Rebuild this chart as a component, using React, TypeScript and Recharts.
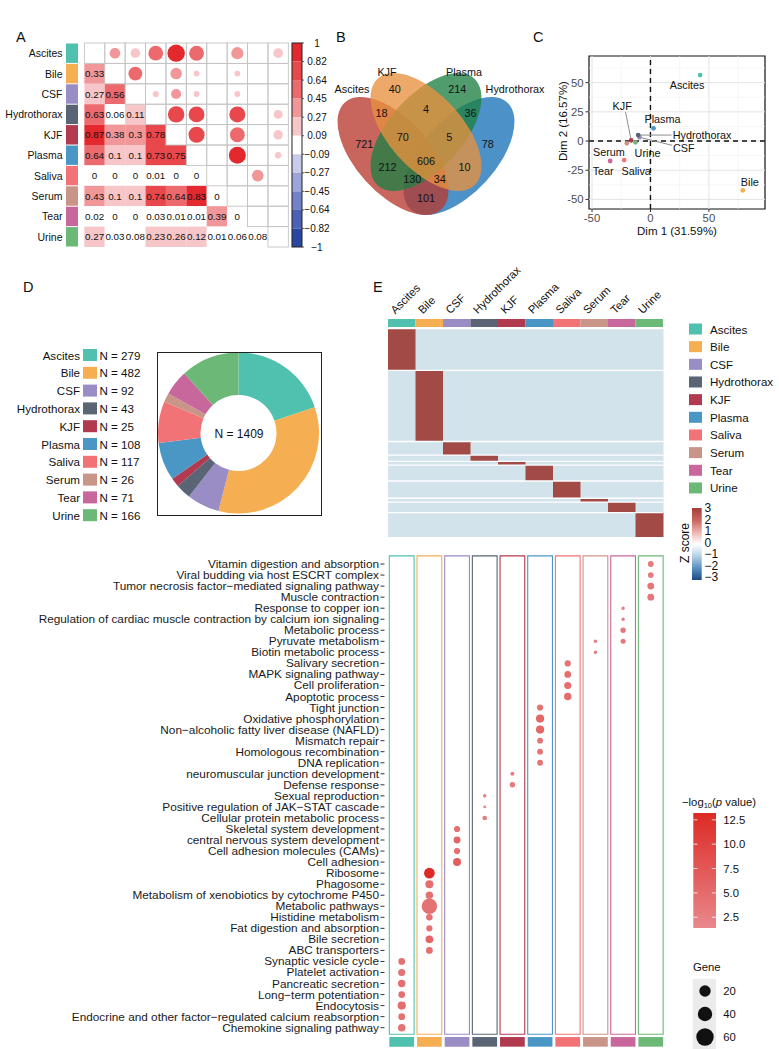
import React from 'react';
import {
  ScatterChart, Scatter, XAxis, YAxis, ZAxis, ReferenceArea, ReferenceLine,
  PieChart, Pie, Cell, BarChart, Bar, Label,
} from 'recharts';

const FONT = '"Liberation Sans", Arial, Helvetica, sans-serif';

// ---------------- shared data ----------------
const TISSUES = ['Ascites', 'Bile', 'CSF', 'Hydrothorax', 'KJF', 'Plasma', 'Saliva', 'Serum', 'Tear', 'Urine'];
const TISSUE_COLORS = ['#4FC1AE', '#F6AE53', '#9A8CC5', '#596475', '#B13A4F', '#4A97C6', '#F27376', '#C99588', '#C8679B', '#6CB877'];
const PROTEIN_COUNTS = [279, 482, 92, 43, 25, 108, 117, 26, 71, 166];

// ---------------- panel A data ----------------
const CORR_LOWER = [
  [],
  [0.33],
  [0.27, 0.56],
  [0.63, 0.06, 0.11],
  [0.87, 0.38, 0.3, 0.78],
  [0.64, 0.1, 0.1, 0.73, 0.75],
  [0, 0, 0, 0.01, 0, 0],
  [0.43, 0.1, 0.1, 0.74, 0.64, 0.83, 0],
  [0.02, 0, 0, 0.03, 0.01, 0.01, 0.39, 0],
  [0.27, 0.03, 0.08, 0.23, 0.26, 0.12, 0.01, 0.06, 0.08],
];
const CORR_BREAKS = [1, 0.82, 0.64, 0.45, 0.27, 0.09, -0.09, -0.27, -0.45, -0.64, -0.82, -1];
const CORR_BREAK_LABELS = ['1', '0.82', '0.64', '0.45', '0.27', '0.09', '\u22120.09', '\u22120.27', '\u22120.45', '\u22120.64', '\u22120.82', '\u22121'];
const CORR_BAND_COLORS = ['#E3282E', '#E8474C', '#EC6A6E', '#F19799', '#F7C6C8', '#FFFFFF', '#C8CCEA', '#9CA5D8', '#7381C6', '#4B62B4', '#2A47A2'];

// ---------------- panel B data ----------------
const VENN_SETS = ['Ascites', 'KJF', 'Plasma', 'Hydrothorax'];
const VENN_COUNTS = [
  { sets: ['Ascites'], n: 721 },
  { sets: ['KJF'], n: 40 },
  { sets: ['Plasma'], n: 214 },
  { sets: ['Hydrothorax'], n: 78 },
  { sets: ['Ascites', 'KJF'], n: 18 },
  { sets: ['KJF', 'Plasma'], n: 4 },
  { sets: ['Plasma', 'Hydrothorax'], n: 36 },
  { sets: ['Ascites', 'Hydrothorax'], n: 101 },
  { sets: ['Ascites', 'Plasma'], n: 212 },
  { sets: ['KJF', 'Hydrothorax'], n: 10 },
  { sets: ['Ascites', 'KJF', 'Plasma'], n: 70 },
  { sets: ['KJF', 'Plasma', 'Hydrothorax'], n: 5 },
  { sets: ['Ascites', 'Plasma', 'Hydrothorax'], n: 130 },
  { sets: ['Ascites', 'KJF', 'Hydrothorax'], n: 34 },
  { sets: ['Ascites', 'KJF', 'Plasma', 'Hydrothorax'], n: 606 },
];

// ---------------- panel C data ----------------
const PCA_POINTS = [
  { name: 'Ascites', x: 42.5, y: 56.5 },
  { name: 'Bile', x: 79, y: -42.2 },
  { name: 'CSF', x: -9.4, y: 3.2 },
  { name: 'Hydrothorax', x: -10.5, y: 5.1 },
  { name: 'KJF', x: -16.5, y: 0.6 },
  { name: 'Plasma', x: 2.6, y: 10.9 },
  { name: 'Saliva', x: -22.5, y: -16.3 },
  { name: 'Serum', x: -20.2, y: -2 },
  { name: 'Tear', x: -34.5, y: -17.1 },
  { name: 'Urine', x: -12.8, y: -1.1 },
];
const PCA_X_TICKS = [-50, 0, 50];
const PCA_Y_TICKS = [-50, -25, 0, 25, 50];
const PCA_X_MINOR = [-25, 25, 75];
const PCA_Y_MINOR = [-37.5, -12.5, 12.5, 37.5, 62.5];

// ---------------- panel E data ----------------
const TERMS = [
  'Vitamin digestion and absorption',
  'Viral budding via host ESCRT complex',
  'Tumor necrosis factor\u2212mediated signaling pathway',
  'Muscle contraction',
  'Response to copper ion',
  'Regulation of cardiac muscle contraction by calcium ion signaling',
  'Metabolic process',
  'Pyruvate metabolism',
  'Biotin metabolic process',
  'Salivary secretion',
  'MAPK signaling pathway',
  'Cell proliferation',
  'Apoptotic process',
  'Tight junction',
  'Oxidative phosphorylation',
  'Non\u2212alcoholic fatty liver disease (NAFLD)',
  'Mismatch repair',
  'Homologous recombination',
  'DNA replication',
  'neuromuscular junction development',
  'Defense response',
  'Sexual reproduction',
  'Positive regulation of JAK\u2212STAT cascade',
  'Cellular protein metabolic process',
  'Skeletal system development',
  'central nervous system development',
  'Cell adhesion molecules (CAMs)',
  'Cell adhesion',
  'Ribosome',
  'Phagosome',
  'Metabolism of xenobiotics by cytochrome P450',
  'Metabolic pathways',
  'Histidine metabolism',
  'Fat digestion and absorption',
  'Bile secretion',
  'ABC transporters',
  'Synaptic vesicle cycle',
  'Platelet activation',
  'Pancreatic secretion',
  'Long\u2212term potentiation',
  'Endocytosis',
  'Endocrine and other factor\u2212regulated calcium reabsorption',
  'Chemokine signaling pathway',
];
const ENRICH_TISSUE = ['Urine', 'Urine', 'Urine', 'Urine', 'Tear', 'Tear', 'Tear', 'Tear', 'Serum', 'Saliva', 'Saliva', 'Saliva', 'Saliva',
  'Plasma', 'Plasma', 'Plasma', 'Plasma', 'Plasma', 'Plasma', 'KJF', 'KJF', 'Hydrothorax', 'Hydrothorax', 'Hydrothorax',
  'CSF', 'CSF', 'CSF', 'CSF', 'Bile', 'Bile', 'Bile', 'Bile', 'Bile', 'Bile', 'Bile', 'Bile',
  'Ascites', 'Ascites', 'Ascites', 'Ascites', 'Ascites', 'Ascites', 'Ascites'];
const ENRICH_GENES = [8, 8, 11, 11, 3, 3, 7, 6, 3, 9, 11, 12, 13, 9, 16, 16, 8, 8, 8, 4, 7, 3, 2, 5, 9, 11, 9, 15, 27, 15, 13, 57, 10, 9, 14, 11, 11, 12, 13, 11, 16, 11, 13];
const ENRICH_LOGP = [3.2, 3.2, 3.8, 3.8, 2.6, 2.6, 3.5, 3.5, 2.4, 4.0, 4.6, 4.6, 4.8, 4.0, 5.5, 5.5, 4.0, 4.0, 4.0, 2.6, 3.2, 2.2, 2.2, 2.8,
  4.5, 5.8, 4.8, 6.5, 13.0, 4.8, 4.2, 4.2, 4.2, 4.4, 6.0, 4.6, 4.2, 4.2, 4.6, 4.2, 4.8, 4.2, 4.2];
// extra dot: Pyruvate metabolism also enriched in Serum
const EXTRA_DOTS = [{ term: 'Pyruvate metabolism', tissue: 'Serum', gene: 3, logp: 2.4 }];
const PVAL_TICKS = [2.5, 5.0, 7.5, 10.0, 12.5];
const PVAL_RANGE = [1.4, 13.2];
const GENE_LEGEND = [20, 40, 60];
const ZSCORE_TICKS = [3, 2, 1, 0, -1, -2, -3];

// ---------------- helpers ----------------
function corrBand(v: number) {
  for (let k = 0; k < 11; k++) {
    if (v <= CORR_BREAKS[k] && v > CORR_BREAKS[k + 1]) return k;
  }
  return 10;
}
function corrColor(v: number) { return CORR_BAND_COLORS[corrBand(v)]; }

const P_LOW = [232, 136, 140];
const P_HIGH = [221, 42, 36];
function pColor(v: number) {
  const t = Math.max(0, Math.min(1, (v - PVAL_RANGE[0]) / (PVAL_RANGE[1] - PVAL_RANGE[0])));
  const c = P_LOW.map((l, i) => Math.round(l + (P_HIGH[i] - l) * t));
  return `rgb(${c[0]},${c[1]},${c[2]})`;
}

// ---------------- Panel A ----------------
const A_CELL = 20.4;
const A_STRIP_X = -1.106;
const A_BAR_X = 9.924;

function PanelA() {
  const cells: any[] = [];
  for (let i = 0; i < TISSUES.length; i++) {
    for (let j = 0; j < TISSUES.length; j++) {
      if (j < i) cells.push({ x: j, y: i, v: CORR_LOWER[i][j], kind: 'lower' });
      else if (j > i) cells.push({ x: j, y: i, v: CORR_LOWER[j][i], kind: 'upper' });
      else cells.push({ x: j, y: i, v: 1, kind: 'diag' });
    }
  }
  const lower = cells.filter((c) => c.kind === 'lower');
  const upperDiag = cells.filter((c) => c.kind !== 'lower');
  const upper = cells.filter((c) => c.kind === 'upper');
  const strip = TISSUES.map((t, i) => ({ x: A_STRIP_X, y: i, i }));
  const nb = CORR_BAND_COLORS.length;
  const bands = CORR_BAND_COLORS.map((c, k) => ({ x: A_BAR_X, y: -0.5 + ((k + 0.5) * 10) / nb, k }));
  const blabels = CORR_BREAK_LABELS.map((l, k) => ({ x: A_BAR_X, y: -0.5 + (k * 10) / nb, l }));
  const h = A_CELL / 2;
  return (
    <ScatterChart width={330} height={250} margin={{ top: 23, right: 23.3, bottom: 23, left: 0 }}>
      <XAxis type="number" dataKey="x" domain={[-1.4, 10.4]} hide />
      <YAxis type="number" dataKey="y" domain={[-0.5, 9.5]} reversed ticks={[0, 1, 2, 3, 4, 5, 6, 7, 8, 9]} interval={0}
        width={66} axisLine={false} tickLine={false} tickSize={0} tickMargin={3.5}
        tick={(p: any) => (
          <text x={p.x} y={p.y} textAnchor="end" dominantBaseline="central" fontSize={10.5} fill="#111">{TISSUES[p.payload.value]}</text>
        )} />
      <Scatter data={strip} isAnimationActive={false}
        shape={(p: any) => <rect x={p.cx - 6} y={p.cy - h + 0.5} width={12} height={A_CELL - 1} fill={TISSUE_COLORS[p.payload.i]} />} />
      <Scatter data={lower} isAnimationActive={false}
        shape={(p: any) => <rect x={p.cx - h} y={p.cy - h} width={A_CELL} height={A_CELL} fill={corrColor(p.payload.v)} />} />
      <Scatter data={upperDiag} isAnimationActive={false}
        shape={(p: any) => <rect x={p.cx - h} y={p.cy - h} width={A_CELL} height={A_CELL} fill="none" stroke="#C4C4C4" strokeWidth={0.9} />} />
      <Scatter data={upper} isAnimationActive={false}
        shape={(p: any) => <circle cx={p.cx} cy={p.cy} r={9.3 * Math.sqrt(Math.abs(p.payload.v))} fill={corrColor(p.payload.v)} />} />
      <Scatter data={lower} isAnimationActive={false}
        shape={(p: any) => (
          <text x={p.cx} y={p.cy} textAnchor="middle" dominantBaseline="central" fontSize={9.8} fill="#111">{String(p.payload.v)}</text>
        )} />
      <Scatter data={bands} isAnimationActive={false}
        shape={(p: any) => {
          const bh = (A_CELL * 10) / nb;
          return <rect x={p.cx - 5} y={p.cy - bh / 2} width={10} height={bh} fill={CORR_BAND_COLORS[p.payload.k]} />;
        }} />
      <Scatter data={bands.slice(0, 1)} isAnimationActive={false}
        shape={(p: any) => <rect x={p.cx - 5} y={p.cy - (A_CELL * 10) / nb / 2} width={10} height={A_CELL * 10} fill="none" stroke="#222" strokeWidth={1} />} />
      <Scatter data={blabels} isAnimationActive={false}
        shape={(p: any) => (
          <g>
            <line x1={p.cx + 5} x2={p.cx + 7} y1={p.cy} y2={p.cy} stroke="#333" strokeWidth={0.8} />
            <text x={p.cx + 20} y={p.cy} textAnchor="middle" dominantBaseline="central" fontSize={10} fill="#111">{p.payload.l}</text>
          </g>
        )} />
    </ScatterChart>
  );
}

// ---------------- Panel B ----------------
const VENN_LAYOUT: Record<string, any> = {
  Ascites: { cx: 73, cy: 116, angle: 48, lx: 32, ly: 49, color: '#B83A30' },
  KJF: { cx: 106, cy: 92, angle: 48, lx: 67, ly: 32, color: '#E8913F' },
  Plasma: { cx: 106, cy: 92, angle: -48, lx: 144, ly: 32, color: '#1F8044' },
  Hydrothorax: { cx: 139, cy: 116, angle: -48, lx: 195, ly: 49, color: '#1A72B8' },
};
const VENN_A = 72;
const VENN_B = 37;
const VENN_DRAW_ORDER = ['Hydrothorax', 'Ascites', 'Plasma', 'KJF'];
const VENN_W = 230;
const VENN_H = 190;

function inEllipse(px: number, py: number, L: any) {
  const t = (L.angle * Math.PI) / 180;
  const dx = px - L.cx;
  const dy = py - L.cy;
  const u = dx * Math.cos(t) + dy * Math.sin(t);
  const v = -dx * Math.sin(t) + dy * Math.cos(t);
  return (u / VENN_A) ** 2 + (v / VENN_B) ** 2 <= 1;
}

function vennRegionLabels() {
  const acc: Record<number, { sx: number; sy: number; c: number }> = {};
  for (let py = 0; py <= VENN_H; py += 1) {
    for (let px = 0; px <= VENN_W; px += 1) {
      let mask = 0;
      VENN_SETS.forEach((s, i) => { if (inEllipse(px, py, VENN_LAYOUT[s])) mask |= 1 << i; });
      if (!mask) continue;
      if (!acc[mask]) acc[mask] = { sx: 0, sy: 0, c: 0 };
      acc[mask].sx += px; acc[mask].sy += py; acc[mask].c += 1;
    }
  }
  return VENN_COUNTS.map((r) => {
    const mask = r.sets.reduce((m, s) => m | (1 << VENN_SETS.indexOf(s)), 0);
    const a = acc[mask] || { sx: 0, sy: 0, c: 1 };
    return { x: a.sx / a.c, y: a.sy / a.c, n: r.n };
  });
}

function PanelB() {
  const ellipses = VENN_DRAW_ORDER.map((s) => ({ x: VENN_LAYOUT[s].cx, y: VENN_LAYOUT[s].cy, s }));
  const setLabels = VENN_SETS.map((s) => ({ x: VENN_LAYOUT[s].lx, y: VENN_LAYOUT[s].ly, s }));
  const regions = vennRegionLabels();
  return (
    <ScatterChart width={VENN_W} height={VENN_H} margin={{ top: 0, right: 0, bottom: 0, left: 0 }}>
      <XAxis type="number" dataKey="x" domain={[0, VENN_W]} hide />
      <YAxis type="number" dataKey="y" domain={[0, VENN_H]} reversed hide />
      <Scatter data={ellipses} isAnimationActive={false}
        shape={(p: any) => {
          const L = VENN_LAYOUT[p.payload.s];
          return <ellipse cx={p.cx} cy={p.cy} rx={VENN_A} ry={VENN_B} transform={`rotate(${L.angle} ${p.cx} ${p.cy})`} fill={L.color} fillOpacity={0.78} stroke="none" />;
        }} />
      <Scatter data={setLabels} isAnimationActive={false}
        shape={(p: any) => <text x={p.cx} y={p.cy} textAnchor="middle" dominantBaseline="central" fontSize={10.8} fill="#111">{p.payload.s}</text>} />
      <Scatter data={regions} isAnimationActive={false}
        shape={(p: any) => <text x={p.cx} y={p.cy} textAnchor="middle" dominantBaseline="central" fontSize={10.8} fill="#111">{p.payload.n}</text>} />
    </ScatterChart>
  );
}

// ---------------- Panel C ----------------
const PCA_LABEL_LAYOUT: Record<string, any> = {
  Ascites: { dx: -13, dy: 10, anchor: 'middle' },
  Bile: { dx: 7, dy: -8, anchor: 'middle' },
  Plasma: { dx: 9, dy: -9, anchor: 'middle' },
  Hydrothorax: { dx: 34.5, dy: 0, anchor: 'start', line: [33.3, 0] },
  CSF: { dx: 33.5, dy: 11, anchor: 'start', line: [32.5, 8] },
  KJF: { dx: -9, dy: -34, anchor: 'middle', line: [-5.7, -28.3] },
  Serum: { dx: -18, dy: 9, anchor: 'middle' },
  Urine: { dx: 12, dy: 11, anchor: 'middle' },
  Tear: { dx: -7, dy: 10, anchor: 'middle' },
  Saliva: { dx: 12, dy: 11, anchor: 'middle' },
};
const PCA_XDOM = [-52.6, 98];
const PCA_YDOM = [-58.2, 72.8];

function PanelC() {
  return (
    <ScatterChart width={269} height={230} margin={{ top: 36, right: 14, bottom: 0, left: 29 }}>
      <XAxis type="number" dataKey="x" domain={PCA_XDOM} ticks={PCA_X_TICKS} allowDataOverflow height={41}
        axisLine={false} tickSize={3} tickMargin={1.5} tickLine={{ stroke: '#333' }}
        tick={{ fontSize: 11.3, fill: '#4D4D4D' }}
        label={(p: any) => {
          const vb = p.viewBox;
          return <text x={vb.x + vb.width / 2} y={vb.y + 22} textAnchor="middle" dominantBaseline="central" fontSize={11.5} fill="#111">Dim 1 (31.59%)</text>;
        }} />
      <YAxis type="number" dataKey="y" domain={PCA_YDOM} ticks={PCA_Y_TICKS} allowDataOverflow width={50}
        axisLine={false} tickSize={3.5} tickMargin={2} tickLine={{ stroke: '#333' }}
        tick={{ fontSize: 11.3, fill: '#4D4D4D' }}
        label={(p: any) => {
          const vb = p.viewBox;
          const x = vb.x + 24;
          const y = 101;
          return <text x={x} y={y} transform={`rotate(-90 ${x} ${y})`} textAnchor="middle" dominantBaseline="central" fontSize={11.5} fill="#111">Dim 2 (16.57%)</text>;
        }} />
      {PCA_X_MINOR.map((v) => <ReferenceLine key={'xm' + v} x={v} stroke="#F0F0F0" strokeWidth={0.6} />)}
      {PCA_Y_MINOR.map((v) => <ReferenceLine key={'ym' + v} y={v} stroke="#F0F0F0" strokeWidth={0.6} />)}
      {PCA_X_TICKS.map((v) => <ReferenceLine key={'x' + v} x={v} stroke="#E3E3E3" strokeWidth={1} />)}
      {PCA_Y_TICKS.map((v) => <ReferenceLine key={'y' + v} y={v} stroke="#E3E3E3" strokeWidth={1} />)}
      <ReferenceLine x={0} stroke="#111" strokeWidth={1.4} strokeDasharray="5 4" />
      <ReferenceLine y={0} stroke="#111" strokeWidth={1.4} strokeDasharray="5 4" />
      <ReferenceArea x1={PCA_XDOM[0]} x2={PCA_XDOM[1]} y1={PCA_YDOM[0]} y2={PCA_YDOM[1]} fill="none" stroke="#111" strokeWidth={1.2} />
      <Scatter data={PCA_POINTS} isAnimationActive={false}
        shape={(p: any) => {
          const L = PCA_LABEL_LAYOUT[p.payload.name];
          const ci = TISSUES.indexOf(p.payload.name);
          return (
            <g>
              {L.line && <line x1={p.cx} y1={p.cy} x2={p.cx + L.line[0]} y2={p.cy + L.line[1]} stroke="#8C8C8C" strokeWidth={1} />}
              <circle cx={p.cx} cy={p.cy} r={2.4} fill={TISSUE_COLORS[ci]} />
              <text x={p.cx + L.dx} y={p.cy + L.dy} textAnchor={L.anchor} dominantBaseline="central" fontSize={10.8} fill="#111">{p.payload.name}</text>
            </g>
          );
        }} />
    </ScatterChart>
  );
}

// ---------------- Panel D ----------------
function PanelD() {
  const data = TISSUES.map((t, i) => ({ name: t, n: PROTEIN_COUNTS[i] }));
  const total = PROTEIN_COUNTS.reduce((a, b) => a + b, 0);
  return (
    <PieChart width={162} height={161} margin={{ top: 0, right: 0, bottom: 0, left: 0 }}>
      <Pie data={data} dataKey="n" cx={80.5} cy={80} innerRadius={38} outerRadius={80.5} startAngle={90} endAngle={-270}
        stroke="none" isAnimationActive={false}>
        {data.map((d, i) => <Cell key={d.name} fill={TISSUE_COLORS[i]} />)}
        <Label position="center" value={`N = ${total}`} fontSize={12} fill="#111" />
      </Pie>
    </PieChart>
  );
}

// ---------------- Panel E heatmap ----------------
const HEAT_LIGHT = '#D3E3EC';
const HEAT_DARK = '#A24A46';
const HEAT_YMIN = -70;
const HEAT_AXIS_H = 59;

function HeatTick(p: any) {
  return (
    <text transform={`translate(${p.x - 6.5},${HEAT_AXIS_H - 4.5}) rotate(-45)`} fontSize={11.3} fill="#111">{p.payload.value}</text>
  );
}

function PanelEHeat() {
  const data = TISSUES.map((t) => {
    const row: any = { tissue: t };
    PROTEIN_COUNTS.forEach((n, g) => { row['g' + g] = n; });
    return row;
  });
  const total = PROTEIN_COUNTS.reduce((a, b) => a + b, 0);
  const bounds: number[] = [];
  PROTEIN_COUNTS.reduce((acc, n) => { bounds.push(acc + n); return acc + n; }, 0);
  return (
    <BarChart width={290} height={280} data={data} margin={{ top: 0, right: 7, bottom: 3, left: 8 }} barCategoryGap={0} barGap={0}>
      <XAxis dataKey="tissue" orientation="top" height={HEAT_AXIS_H} axisLine={false} tickLine={false} interval={0} tick={<HeatTick />} />
      <YAxis type="number" domain={[HEAT_YMIN, total]} reversed hide allowDataOverflow />
      {PROTEIN_COUNTS.map((n, g) => (
        <Bar key={g} dataKey={'g' + g} stackId="s" isAnimationActive={false}>
          {data.map((d, c) => <Cell key={c} fill={g === c ? HEAT_DARK : HEAT_LIGHT} />)}
        </Bar>
      ))}
      {bounds.slice(0, -1).map((b) => <ReferenceLine key={b} y={b} stroke="#FFFFFF" strokeWidth={1.3} />)}
      {TISSUES.map((t, i) => (
        <ReferenceArea key={t} x1={t} x2={t} y1={HEAT_YMIN} y2={-15.6} fill={TISSUE_COLORS[i]} fillOpacity={1} stroke="none" />
      ))}
    </BarChart>
  );
}

// ---------------- Panel E dot plot ----------------
const DOT_XDOM = [-0.622, 9.46];
const DOT_YDOM = [-0.8, 43.75];

function PanelEDots() {
  const dots = TERMS.map((term, i) => ({
    x: TISSUES.indexOf(ENRICH_TISSUE[i]), y: i, gene: ENRICH_GENES[i], logp: ENRICH_LOGP[i],
  })).concat(EXTRA_DOTS.map((d) => ({ x: TISSUES.indexOf(d.tissue), y: TERMS.indexOf(d.term), gene: d.gene, logp: d.logp })));
  const lastRow = TERMS.length - 1;
  return (
    <ScatterChart width={680} height={499} margin={{ top: 5.2, right: 16.5, bottom: 2, left: 0 }}>
      <XAxis type="number" dataKey="x" domain={DOT_XDOM} hide allowDataOverflow />
      <YAxis type="number" dataKey="y" domain={DOT_YDOM} reversed allowDataOverflow ticks={TERMS.map((t, i) => i)} interval={0}
        width={384.5} axisLine={false} tickSize={4} tickMargin={1.5} tickLine={{ stroke: '#333' }}
        tick={(p: any) => (
          <text x={p.x} y={p.y} textAnchor="end" dominantBaseline="central" fontSize={11.8} fill="#1A1A1A">{TERMS[p.payload.value]}</text>
        )} />
      <ZAxis type="number" dataKey="gene" domain={[0, 60]} range={[0, 200]} />
      {TISSUES.map((t, i) => (
        <ReferenceArea key={'box' + t} x1={i - 0.447} x2={i + 0.447} y1={-0.74} y2={lastRow + 0.6}
          fill="none" stroke={TISSUE_COLORS[i]} strokeWidth={1.1} ifOverflow="visible" />
      ))}
      {TISSUES.map((t, i) => (
        <ReferenceArea key={'strip' + t} x1={i - 0.447} x2={i + 0.447} y1={lastRow + 0.85} y2={lastRow + 1.72}
          fill={TISSUE_COLORS[i]} fillOpacity={1} stroke="none" ifOverflow="visible" />
      ))}
      <Scatter data={dots} isAnimationActive={false} shape="circle">
        {dots.map((d, i) => <Cell key={i} fill={pColor(d.logp)} />)}
      </Scatter>
    </ScatterChart>
  );
}

// ---------------- overlay legends ----------------
function Overlay() {
  const pTop = 813;
  const pBot = 928;
  const pY = (v: number) => pBot - ((v - PVAL_RANGE[0]) / (PVAL_RANGE[1] - PVAL_RANGE[0])) * (pBot - pTop);
  const zTop = 508;
  const zBot = 580;
  const zY = (v: number) => zTop + ((3 - v) / 6) * (zBot - zTop) - (3 - v) * 0.5;
  return (
    <svg width={779} height={1049} style={{ position: 'absolute', left: 0, top: 0, pointerEvents: 'none' }}>
      <defs>
        <linearGradient id="zgrad" x1="0" y1="0" x2="0" y2="1">
          <stop offset="0" stopColor="#A33E3B" />
          <stop offset="0.17" stopColor="#C9665F" />
          <stop offset="0.34" stopColor="#EDB5AE" />
          <stop offset="0.5" stopColor="#FFFFFF" />
          <stop offset="0.66" stopColor="#BAD4E6" />
          <stop offset="0.83" stopColor="#5C92C1" />
          <stop offset="1" stopColor="#1B4A87" />
        </linearGradient>
        <linearGradient id="pgrad" x1="0" y1="0" x2="0" y2="1">
          <stop offset="0" stopColor={pColor(PVAL_RANGE[1])} />
          <stop offset="1" stopColor={pColor(PVAL_RANGE[0])} />
        </linearGradient>
      </defs>
      {/* panel letters */}
      <text x={16} y={42} fontSize={14.5} fill="#111">A</text>
      <text x={336} y={42} fontSize={14.5} fill="#111">B</text>
      <text x={533} y={42} fontSize={14.5} fill="#111">C</text>
      <text x={23} y={292} fontSize={14.5} fill="#111">D</text>
      <text x={373} y={292} fontSize={14.5} fill="#111">E</text>

      {/* panel D legend */}
      {TISSUES.map((t, i) => {
        const cy = 355 + i * 17.8;
        return (
          <g key={'dl' + t}>
            <text x={80} y={cy} textAnchor="end" dominantBaseline="central" fontSize={11.6} fill="#111">{t}</text>
            <rect x={83} y={cy - 6} width={14} height={12} fill={TISSUE_COLORS[i]} />
            <text x={99.5} y={cy} dominantBaseline="central" fontSize={11.6} fill="#111">{`N = ${PROTEIN_COUNTS[i]}`}</text>
          </g>
        );
      })}

      {/* panel E tissue legend */}
      {TISSUES.map((t, i) => {
        const cy = 329 + i * 17.66;
        return (
          <g key={'el' + t}>
            <rect x={689} y={cy - 5.5} width={13} height={11} fill={TISSUE_COLORS[i]} />
            <text x={710} y={cy} dominantBaseline="central" fontSize={11.6} fill="#111">{t}</text>
          </g>
        );
      })}

      {/* Z score legend */}
      <rect x={692} y={zTop} width={9.7} height={zBot - zTop} fill="url(#zgrad)" />
      {ZSCORE_TICKS.map((v) => (
        <text key={'z' + v} x={704.5} y={zY(v)} dominantBaseline="central" fontSize={12} fill="#111">{v < 0 ? `\u2212${-v}` : String(v)}</text>
      ))}
      <text x={685} y={543} transform="rotate(-90 685 543)" textAnchor="middle" dominantBaseline="central" fontSize={12} fill="#111">Z score</text>

      {/* -log10 p legend */}
      <text x={682} y={802} dominantBaseline="central" fontSize={11.3} fill="#111">
        {'\u2212log'}<tspan fontSize={7.5} dy={3}>10</tspan><tspan dy={-3}>(</tspan><tspan fontStyle="italic">p</tspan>{' value)'}
      </text>
      <rect x={693.3} y={pTop} width={22.7} height={pBot - pTop} fill="url(#pgrad)" />
      {PVAL_TICKS.map((v) => (
        <g key={'p' + v}>
          <line x1={693.3} x2={697.5} y1={pY(v)} y2={pY(v)} stroke="#fff" strokeWidth={0.8} />
          <line x1={711.8} x2={716} y1={pY(v)} y2={pY(v)} stroke="#fff" strokeWidth={0.8} />
          <text x={723.3} y={pY(v)} dominantBaseline="central" fontSize={11.3} fill="#111">{v.toFixed(1)}</text>
        </g>
      ))}

      {/* Gene legend */}
      <text x={693} y={967} dominantBaseline="central" fontSize={11.3} fill="#111">Gene</text>
      <rect x={692.7} y={979} width={23.3} height={72} fill="#EBEBEB" />
      {GENE_LEGEND.map((g, i) => {
        const cy = 991 + i * 23;
        return (
          <g key={'g' + g}>
            <circle cx={705} cy={cy} r={4.2 + g * 0.075} fill="#111" />
            <text x={723.3} y={cy} dominantBaseline="central" fontSize={11.3} fill="#111">{g}</text>
          </g>
        );
      })}
    </svg>
  );
}

export default function App() {
  return (
    <div style={{ position: 'absolute', left: 0, top: 0, width: 779, height: 1049, overflow: 'hidden', background: '#fff', fontFamily: FONT }}>
      <div style={{ position: 'absolute', left: 0, top: 20 }}><PanelA /></div>
      <div style={{ position: 'absolute', left: 320, top: 40 }}><PanelB /></div>
      <div style={{ position: 'absolute', left: 510, top: 20 }}><PanelC /></div>
      <div style={{ position: 'absolute', left: 157, top: 352, width: 165, height: 164, border: '1.5px solid #222', boxSizing: 'border-box' }}>
        <PanelD />
      </div>
      <div style={{ position: 'absolute', left: 380, top: 260 }}><PanelEHeat /></div>
      <div style={{ position: 'absolute', left: 0, top: 550 }}><PanelEDots /></div>
      <Overlay />
    </div>
  );
}
